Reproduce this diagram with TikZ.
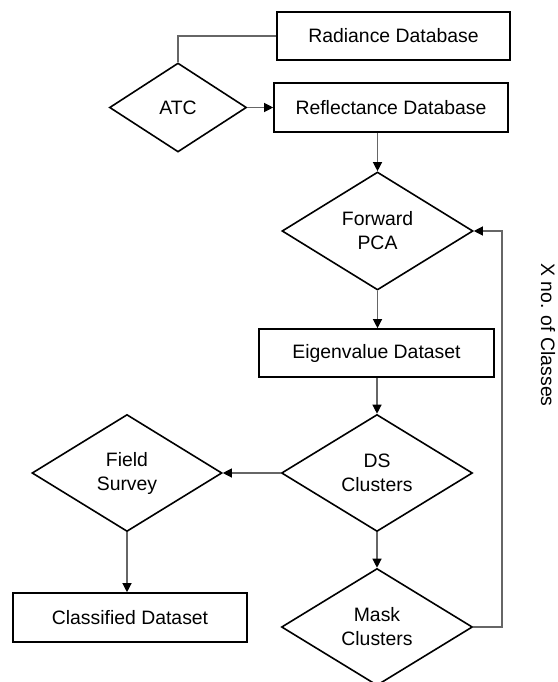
\documentclass[tikz,border=0pt]{standalone}
\usepackage{fontspec}
\setmainfont{Liberation Sans}
\usetikzlibrary{arrows.meta,shapes.geometric}

\tikzset{
  databox/.style={draw=black, line width=1.6pt, rectangle, inner sep=0pt,
    minimum width=234pt, minimum height=48pt},
  decision/.style={draw=black, line width=1.6pt, diamond, shape aspect=1.6,
    inner sep=0pt, align=center, minimum width=191pt, minimum height=117pt},
  flowline/.style={draw=black!60, line width=1.2pt},
  flowarrow/.style={flowline, -{Triangle[length=9pt,width=9pt,color=black]}},
}

\begin{document}
\begin{tikzpicture}[x=1pt, y=-1pt,
    every node/.style={font=\fontsize{19.4}{24}\selectfont}]
  \useasboundingbox (0,0) rectangle (557,682);

  % Databases and decisions
  \node[databox, minimum width=233pt] (radiance) at (393.5,36) {Radiance Database};
  \node[databox, minimum height=49pt] (reflect) at (391,107.5) {Reflectance Database};
  \node[decision, minimum width=137pt, minimum height=89pt] (atc) at (178,107.5) {ATC};
  \node[decision, minimum height=118pt] (pca) at (377.5,231) {Forward\\PCA};
  \node[databox, minimum width=235pt] (eigen) at (376.5,353) {Eigenvalue Dataset};
  \node[decision] (ds) at (377,473) {DS\\Clusters};
  \node[decision, minimum width=190pt] (field) at (127,473) {Field\\Survey};
  \node[databox, minimum height=49pt] (classified) at (130,617.5) {Classified Dataset};
  \node[decision] (mask) at (377,627) {Mask\\Clusters};
  \node[rotate=-90] (classes) at (548,335) {X no. of Classes};

  % Connectors
  \draw[flowline] (radiance.west) -| (atc.north);
  \draw[flowarrow] (atc.east) -- (reflect.west);
  \draw[flowarrow] (reflect.south -| pca.north) -- (pca.north);
  \draw[flowarrow] (pca.south) -- (pca.south |- eigen.north);
  \draw[flowarrow] (eigen.south -| ds.north) -- (ds.north);
  \draw[flowarrow] (ds.west) -- (field.east);
  \draw[flowarrow] (field.south) -- (field.south |- classified.north);
  \draw[flowarrow] (ds.south) -- (mask.north);

  % Loop back for each class
  \coordinate (loopx) at (502,0);
  \draw[flowarrow] (mask.east) -- (mask.east -| loopx) |- (pca.east);
\end{tikzpicture}
\end{document}
